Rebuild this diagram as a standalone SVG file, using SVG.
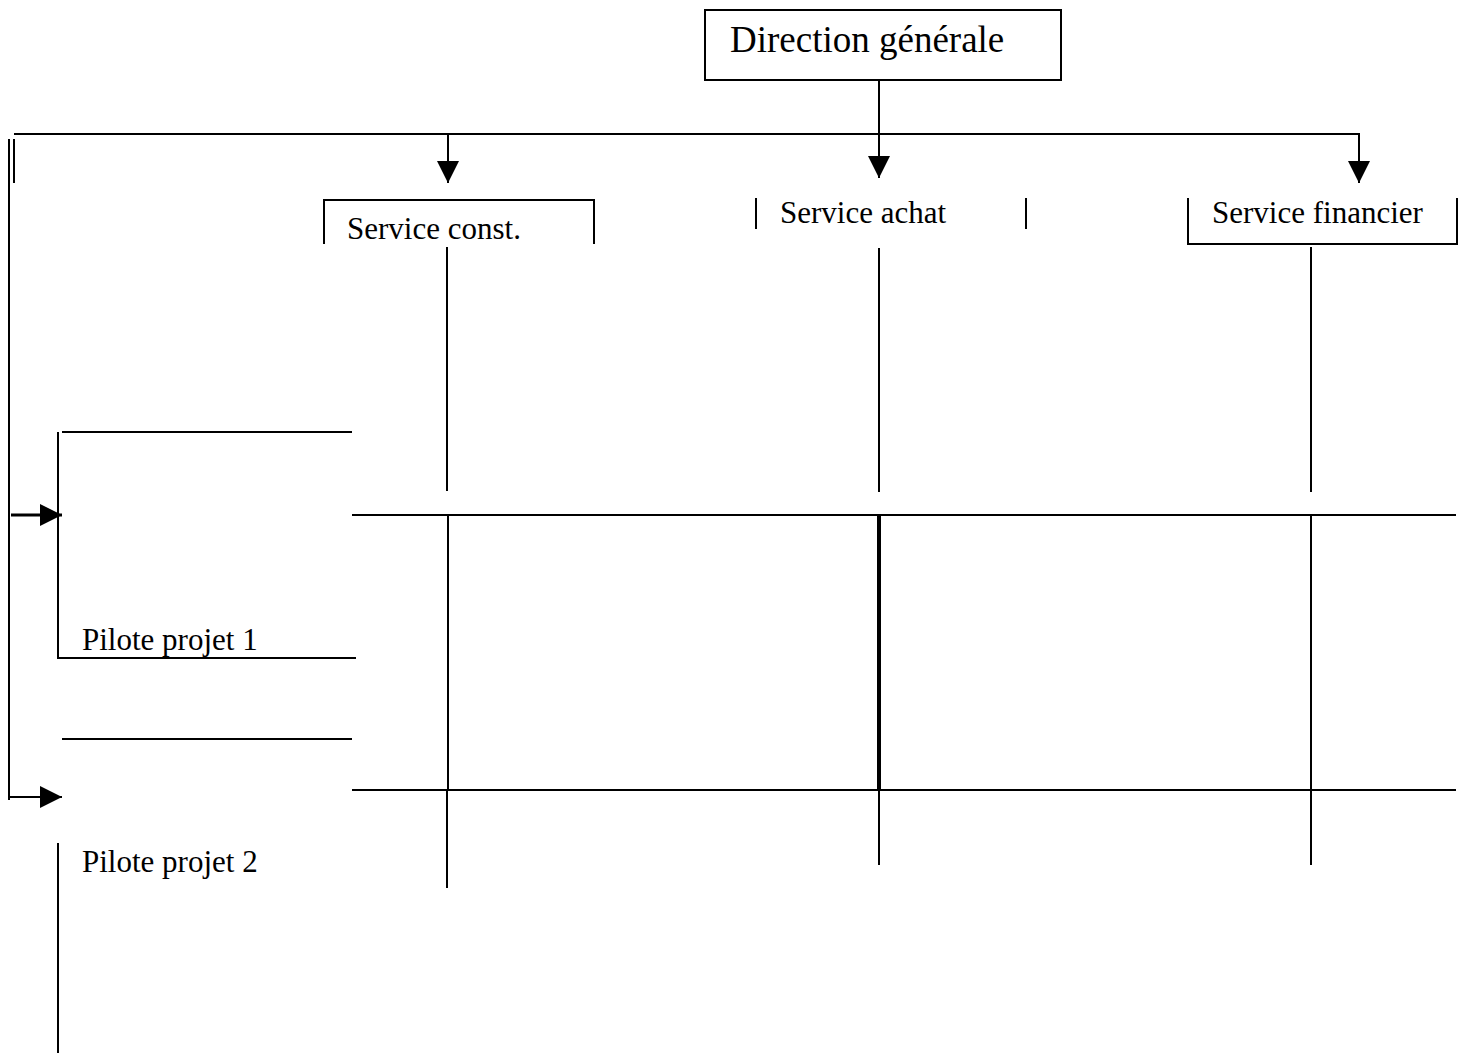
<svg xmlns="http://www.w3.org/2000/svg" width="1464" height="1053" viewBox="0 0 1464 1053">
<style>
  .ln { stroke:#000; stroke-width:2; fill:none; }
  .sh { stroke:#000; stroke-width:3; fill:none; }
  .thk { stroke:#000; stroke-width:4; fill:none; }
  .t { font-family:"Liberation Serif","Times New Roman",serif; font-size:31px; fill:#000; }
  .tb { font-family:"Liberation Serif","Times New Roman",serif; font-size:37px; fill:#000; }
</style>
<defs>
  <marker id="arr" markerUnits="userSpaceOnUse" markerWidth="22" markerHeight="22" refX="22" refY="11" orient="auto">
    <path d="M0,0 L22,11 L0,22 z" fill="#000"/>
  </marker>
</defs>
<rect width="1464" height="1053" fill="#fff"/>

<g id="direction-generale">
  <rect class="ln" x="705" y="10" width="356" height="70"/>
  <text class="tb" x="730" y="52">Direction générale</text>
</g>

<g id="service-const">
  <path class="ln" d="M324,244 V200 H594 V244"/>
  <text class="t" x="347" y="239">Service const.</text>
</g>

<g id="service-achat">
  <path class="ln" d="M756,198 V229 M1026,198 V229"/>
  <text class="t" x="780" y="223">Service achat</text>
</g>

<g id="service-financier">
  <path class="ln" d="M1188,198 V244 H1457 V198"/>
  <text class="t" x="1212" y="223">Service financier</text>
</g>

<g id="pilote-projet-1">
  <path class="ln" d="M62,432 H352 M58,432 V658 H356"/>
  <text class="t" x="82" y="650">Pilote projet 1</text>
</g>

<g id="pilote-projet-2">
  <path class="ln" d="M62,739 H352 M58,843 V1053"/>
  <text class="t" x="82" y="872">Pilote projet 2</text>
</g>

<g id="connectors">
  <line class="ln" x1="879" y1="80" x2="879" y2="178" marker-end="url(#arr)"/>
  <line class="ln" x1="14" y1="134" x2="1360" y2="134"/>
  <line class="ln" x1="14" y1="139" x2="14" y2="183"/>
  <line class="ln" x1="448" y1="134" x2="448" y2="183" marker-end="url(#arr)"/>
  <line class="ln" x1="1359" y1="133" x2="1359" y2="183" marker-end="url(#arr)"/>
  <line class="ln" x1="9" y1="139" x2="9" y2="800"/>
  <line class="sh" x1="11" y1="515" x2="62" y2="515" marker-end="url(#arr)"/>
  <line class="ln" x1="10" y1="797" x2="62" y2="797" marker-end="url(#arr)"/>
  <line class="ln" x1="447" y1="247" x2="447" y2="491"/>
  <line class="ln" x1="879" y1="248" x2="879" y2="492"/>
  <line class="ln" x1="1311" y1="247" x2="1311" y2="492"/>
  <line class="ln" x1="352" y1="515" x2="1456" y2="515"/>
  <line class="ln" x1="352" y1="790" x2="1456" y2="790"/>
  <line class="ln" x1="448" y1="515" x2="448" y2="790"/>
  <line class="ln" x1="447" y1="790" x2="447" y2="888"/>
  <line class="thk" x1="879" y1="515" x2="879" y2="790"/>
  <line class="ln" x1="879" y1="790" x2="879" y2="865"/>
  <line class="ln" x1="1311" y1="515" x2="1311" y2="865"/>
</g>
</svg>
